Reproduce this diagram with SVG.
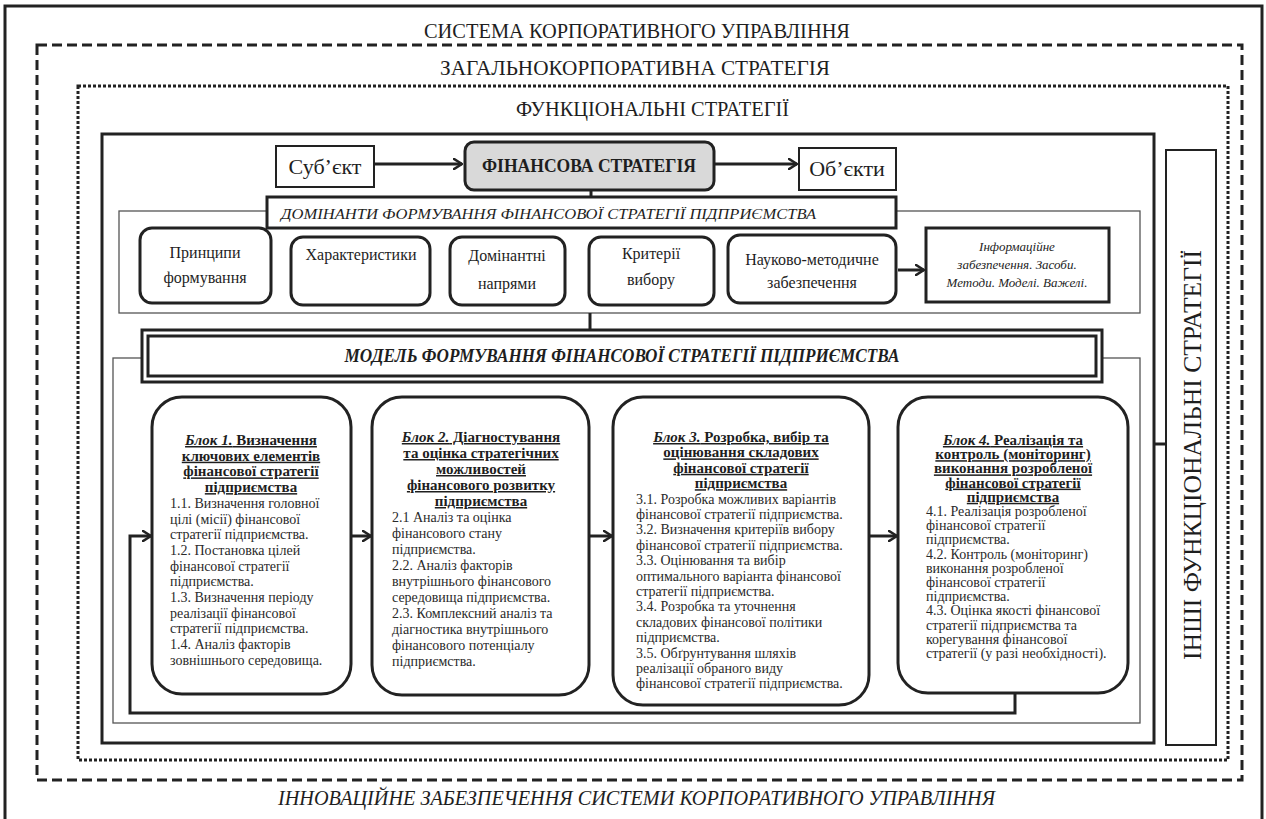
<svg xmlns="http://www.w3.org/2000/svg" width="1266" height="819" viewBox="0 0 1266 819">
<defs>
<marker id="arr" viewBox="0 0 10 12" refX="9" refY="6" markerWidth="10" markerHeight="12" markerUnits="userSpaceOnUse" orient="auto">
<path d="M1,1 L9,6 L1,11" fill="none" stroke="#222" stroke-width="2.6" stroke-linecap="round" stroke-linejoin="round"/>
</marker>
<style>
text{font-family:"Liberation Serif","Times New Roman",serif;fill:#1e1e1e}
.frame{fill:none;stroke:#222;stroke-width:3}
.thin{fill:none;stroke:#555;stroke-width:1.3}
.box{fill:#fff;stroke:#222;stroke-width:3}
.sbox{fill:#fff;stroke:#222;stroke-width:2}
.ttl{font-size:20px}
.lbl{font-size:16px;text-anchor:middle}
.c{text-anchor:middle}
.bt{font-size:15px;font-weight:bold;text-anchor:middle;text-decoration:underline}
.bd{font-size:14px;fill:#2a2a2a}
.con{fill:none;stroke:#222;stroke-width:3}
</style>
</defs>

<g id="frames">
<rect x="5" y="6" width="1257" height="830" class="frame"/>
<rect x="37" y="45" width="1205" height="735" class="frame" stroke-dasharray="10 5"/>
<rect x="78" y="86" width="1150" height="674" class="frame" stroke-dasharray="3 2"/>
<rect x="102" y="134" width="1052" height="609" class="frame"/>
<text class="ttl" x="424" y="38" textLength="426" lengthAdjust="spacingAndGlyphs">СИСТЕМА КОРПОРАТИВНОГО УПРАВЛІННЯ</text>
<text class="ttl" x="440" y="75" textLength="390" lengthAdjust="spacingAndGlyphs">ЗАГАЛЬНОКОРПОРАТИВНА СТРАТЕГІЯ</text>
<text class="ttl" x="516" y="116" textLength="273" lengthAdjust="spacingAndGlyphs">ФУНКЦІОНАЛЬНІ СТРАТЕГІЇ</text>
<text class="ttl" x="278" y="805" font-style="italic" textLength="717" lengthAdjust="spacingAndGlyphs">ІННОВАЦІЙНЕ ЗАБЕЗПЕЧЕННЯ СИСТЕМИ КОРПОРАТИВНОГО УПРАВЛІННЯ</text>
</g>

<g id="containers">
<rect x="119" y="211" width="1021" height="102" class="thin"/>
<rect x="113" y="358" width="1027" height="365" class="thin"/>
</g>

<g id="connectors">
<line x1="374" y1="164" x2="462" y2="164" class="con" marker-end="url(#arr)"/>
<line x1="714" y1="164" x2="797" y2="164" class="con" stroke-width="2.5" marker-end="url(#arr)"/>
<line x1="591" y1="190" x2="591" y2="197" class="con" stroke-width="2"/>
<line x1="590" y1="313" x2="590" y2="330" class="con" stroke-width="2"/>
<line x1="898" y1="270" x2="924" y2="270" class="con" stroke-width="2.5" marker-end="url(#arr)"/>
<line x1="351" y1="536" x2="371" y2="536" class="con" marker-end="url(#arr)"/>
<line x1="589" y1="536" x2="612" y2="536" class="con" marker-end="url(#arr)"/>
<line x1="869" y1="536" x2="897" y2="536" class="con" marker-end="url(#arr)"/>
<polyline points="1015,693 1015,713 130,713 130,536 151,536" class="con" stroke-width="2.5" marker-end="url(#arr)"/>
<line x1="1154" y1="444" x2="1166" y2="444" class="con" stroke-width="2.5"/>
</g>

<g id="subject">
<rect x="276" y="146" width="98" height="41" class="sbox"/>
<text x="325" y="174" class="c" font-size="22">Суб’єкт</text>
</g>
<g id="fin-strategy">
<rect x="465" y="142" width="249" height="48" rx="9" fill="#d9d9d9" stroke="#222" stroke-width="3"/>
<text x="589" y="172" class="c" font-size="18" font-weight="bold" textLength="214" lengthAdjust="spacingAndGlyphs">ФІНАНСОВА СТРАТЕГІЯ</text>
</g>
<g id="objects">
<rect x="799" y="148" width="97" height="42" class="sbox"/>
<text x="847" y="176" class="c" font-size="22">Об’єкти</text>
</g>

<g id="dominanty-header">
<rect x="267" y="197" width="629" height="31" class="box"/>
<text x="281" y="219" font-size="14.5" font-style="italic" textLength="535" lengthAdjust="spacingAndGlyphs">ДОМІНАНТИ ФОРМУВАННЯ ФІНАНСОВОЇ СТРАТЕГІЇ ПІДПРИЄМСТВА</text>
</g>

<g id="principles">
<rect x="140" y="228" width="131" height="75" rx="12" class="box"/>
<text class="lbl" x="205" y="258">Принципи</text>
<text class="lbl" x="205" y="283">формування</text>
</g>
<g id="characteristics">
<rect x="291" y="237" width="139" height="68" rx="12" class="box"/>
<text class="lbl" x="361" y="260">Характеристики</text>
</g>
<g id="directions">
<rect x="450" y="237" width="115" height="68" rx="12" class="box"/>
<text class="lbl" x="507" y="261">Домінантні</text>
<text class="lbl" x="507" y="289">напрями</text>
</g>
<g id="criteria">
<rect x="589" y="237" width="125" height="68" rx="12" class="box"/>
<text class="lbl" x="651" y="259">Критерії</text>
<text class="lbl" x="651" y="285">вибору</text>
</g>
<g id="methodical">
<rect x="728" y="235" width="168" height="68" rx="12" class="box"/>
<text class="lbl" x="812" y="265">Науково-методичне</text>
<text class="lbl" x="812" y="288">забезпечення</text>
</g>
<g id="info">
<rect x="926" y="228" width="183" height="74" class="box"/>
<text x="1017" y="251" class="c" font-size="13" font-style="italic" fill="#555">Інформаційне</text>
<text x="1017" y="269" class="c" font-size="13" font-style="italic" fill="#555">забезпечення.  Засоби.</text>
<text x="1017" y="287" class="c" font-size="13" font-style="italic" fill="#555">Методи. Моделі. Важелі.</text>
</g>

<g id="model-header">
<rect x="142" y="330" width="960" height="52" class="box"/>
<rect x="148" y="336" width="948" height="40" class="box"/>
<text x="622" y="362" class="c" font-size="18" font-weight="bold" font-style="italic" textLength="555" lengthAdjust="spacingAndGlyphs">МОДЕЛЬ ФОРМУВАННЯ ФІНАНСОВОЇ СТРАТЕГІЇ ПІДПРИЄМСТВА</text>
</g>

<g id="block1">
<rect x="152" y="397" width="199" height="297" rx="30" class="box"/>
<text class="bt" x="251" y="445"><tspan font-style="italic">Блок 1.</tspan> Визначення</text>
<text class="bt" x="251" y="460.7">ключових елементів</text>
<text class="bt" x="251" y="476.4">фінансової стратегії</text>
<text class="bt" x="251" y="492.1">підприємства</text>
<text class="bd" x="170" y="507.8">1.1. Визначення головної</text>
<text class="bd" x="170" y="523.5">цілі (місії) фінансової</text>
<text class="bd" x="170" y="539.2">стратегії підприємства.</text>
<text class="bd" x="170" y="554.9">1.2. Постановка цілей</text>
<text class="bd" x="170" y="570.6">фінансової стратегії</text>
<text class="bd" x="170" y="586.3">підприємства.</text>
<text class="bd" x="170" y="602">1.3. Визначення періоду</text>
<text class="bd" x="170" y="617.7">реалізації фінансової</text>
<text class="bd" x="170" y="633.4">стратегії підприємства.</text>
<text class="bd" x="170" y="649.1">1.4. Аналіз факторів</text>
<text class="bd" x="170" y="664.8">зовнішнього середовища.</text>
</g>

<g id="block2">
<rect x="372" y="397" width="217" height="298" rx="30" class="box"/>
<text class="bt" x="481" y="442"><tspan font-style="italic">Блок 2.</tspan> Діагностування</text>
<text class="bt" x="481" y="458">та оцінка стратегічних</text>
<text class="bt" x="481" y="474">можливостей</text>
<text class="bt" x="481" y="490">фінансового розвитку</text>
<text class="bt" x="481" y="506">підприємства</text>
<text class="bd" x="392" y="522">2.1 Аналіз та оцінка</text>
<text class="bd" x="392" y="538">фінансового стану</text>
<text class="bd" x="392" y="554">підприємства.</text>
<text class="bd" x="392" y="570">2.2. Аналіз факторів</text>
<text class="bd" x="392" y="586">внутрішнього фінансового</text>
<text class="bd" x="392" y="602">середовища підприємства.</text>
<text class="bd" x="392" y="618">2.3. Комплексний аналіз та</text>
<text class="bd" x="392" y="634">діагностика внутрішнього</text>
<text class="bd" x="392" y="650">фінансового потенціалу</text>
<text class="bd" x="392" y="666">підприємства.</text>
</g>

<g id="block3">
<rect x="613" y="397" width="256" height="308" rx="30" class="box"/>
<text class="bt" x="741" y="442"><tspan font-style="italic">Блок 3.</tspan> Розробка, вибір та</text>
<text class="bt" x="741" y="457.4">оцінювання складових</text>
<text class="bt" x="741" y="472.8">фінансової стратегії</text>
<text class="bt" x="741" y="488.2">підприємства</text>
<text class="bd" x="636" y="503.6">3.1. Розробка можливих варіантів</text>
<text class="bd" x="636" y="519">фінансової стратегії підприємства.</text>
<text class="bd" x="636" y="534.4">3.2. Визначення критеріїв вибору</text>
<text class="bd" x="636" y="549.8">фінансової стратегії підприємства.</text>
<text class="bd" x="636" y="565.2">3.3. Оцінювання та вибір</text>
<text class="bd" x="636" y="580.6">оптимального варіанта фінансової</text>
<text class="bd" x="636" y="596">стратегії підприємства.</text>
<text class="bd" x="636" y="611.4">3.4. Розробка та уточнення</text>
<text class="bd" x="636" y="626.8">складових фінансової політики</text>
<text class="bd" x="636" y="642.2">підприємства.</text>
<text class="bd" x="636" y="657.6">3.5. Обґрунтування шляхів</text>
<text class="bd" x="636" y="673">реалізації обраного виду</text>
<text class="bd" x="636" y="688.4">фінансової стратегії підприємства.</text>
</g>

<g id="block4">
<rect x="898" y="397" width="230" height="296" rx="30" class="box"/>
<text class="bt" x="1013" y="445"><tspan font-style="italic">Блок 4.</tspan> Реалізація та</text>
<text class="bt" x="1013" y="459.2">контроль (моніторинг)</text>
<text class="bt" x="1013" y="473.4">виконання розробленої</text>
<text class="bt" x="1013" y="487.6">фінансової стратегії</text>
<text class="bt" x="1013" y="501.8">підприємства</text>
<text class="bd" x="926" y="516">4.1. Реалізація розробленої</text>
<text class="bd" x="926" y="530.2">фінансової стратегії</text>
<text class="bd" x="926" y="544.4">підприємства.</text>
<text class="bd" x="926" y="558.6">4.2. Контроль (моніторинг)</text>
<text class="bd" x="926" y="572.8">виконання розробленої</text>
<text class="bd" x="926" y="587">фінансової стратегії</text>
<text class="bd" x="926" y="601.2">підприємства.</text>
<text class="bd" x="926" y="615.4">4.3. Оцінка якості фінансової</text>
<text class="bd" x="926" y="629.6">стратегії підприємства та</text>
<text class="bd" x="926" y="643.8">корегування фінансової</text>
<text class="bd" x="926" y="658">стратегії (у разі необхідності).</text>
</g>

<g id="other-strategies">
<rect x="1166" y="150" width="50" height="595" class="sbox" stroke-width="2.5"/>
<text x="1201" y="455" class="c" font-size="25" transform="rotate(-90 1201 455)" textLength="410" lengthAdjust="spacingAndGlyphs">ІНШІ ФУНКЦІОНАЛЬНІ СТРАТЕГІЇ</text>
</g>
</svg>
